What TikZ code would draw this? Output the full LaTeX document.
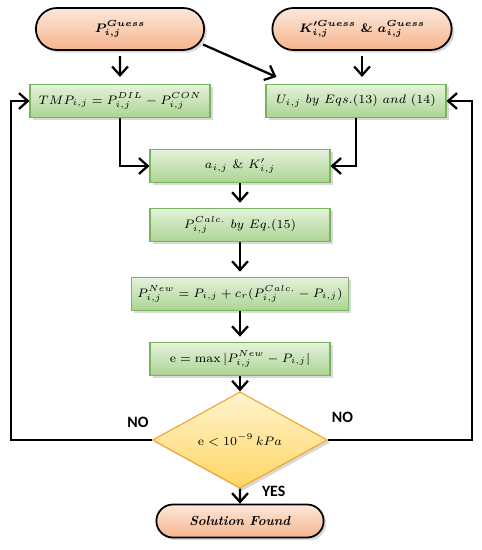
\documentclass[tikz,border=0pt]{standalone}
\usepackage{amsmath}
\usepackage{fontspec}
\usepackage{tikz}
\usetikzlibrary{arrows.meta, positioning, shapes.geometric, shapes.misc, shadows, calc}
\newfontfamily\labelfont{Carlito}
\definecolor{termtop}{RGB}{252,232,220}
\definecolor{termbot}{RGB}{246,180,140}
\definecolor{boxtop}{RGB}{228,242,219}
\definecolor{boxbot}{RGB}{172,212,146}
\definecolor{boxline}{RGB}{120,180,95}
\definecolor{dectop}{RGB}{255,244,206}
\definecolor{decbot}{RGB}{255,214,100}
\definecolor{decline}{RGB}{245,160,40}

\begin{document}
\begin{tikzpicture}[
    x=0.02cm, y=-0.02cm,
    term/.style={rounded rectangle, draw=black, line width=1pt, top color=termtop, bottom color=termbot, minimum width=3.6cm, minimum height=0.84cm, font=\fontsize{7}{8}\selectfont\boldmath, drop shadow={opacity=0.3, shadow xshift=1.5pt, shadow yshift=-1.5pt}},
    calcbox/.style={rectangle, draw=boxline, line width=0.6pt, top color=boxtop, bottom color=boxbot, minimum width=3.6cm, minimum height=0.66cm, font=\fontsize{7}{8}\selectfont, drop shadow={opacity=0.3, shadow xshift=1.5pt, shadow yshift=-1.5pt}},
    decide/.style={diamond, draw=decline, line width=0.6pt, top color=dectop, bottom color=decbot, minimum width=3.5cm, minimum height=1.4cm, inner sep=0pt, font=\fontsize{7}{8}\selectfont, drop shadow={opacity=0.3, shadow xshift=1.5pt, shadow yshift=-1.5pt}},
    arr/.style={-{Straight Barb[length=5pt, width=9pt]}, line width=1.3pt},
    answer/.style={font=\labelfont\small\bfseries}
]
\useasboundingbox (0,0) rectangle (482,550);

\node[term] (pg) at (120, 29) {$P^{Guess}_{i,j}$};
\node[term, minimum width=3.82cm] (kg) at (362, 29) {$K'^{Guess}_{i,j}$ \textbf{\&} $a^{Guess}_{i,j}$};

\node[calcbox] (tmp) at (120, 101) {$TMP_{i,j} = P^{DIL}_{i,j} - P^{CON}_{i,j}$};
\node[calcbox] (u) at (356, 101) {$U_{i,j}\ by\ Eqs.(13)\ and\ (14)$};
\node[calcbox] (a) at (240, 166) {$a_{i,j}$ \& $K'_{i,j}$};
\node[calcbox] (pc) at (240, 225) {$P^{Calc.}_{i,j}\ by\ Eq.(15)$};
\node[calcbox] (pn) at (240, 294) {$P^{New}_{i,j} = P_{i,j} + c_r(P^{Calc.}_{i,j} - P_{i,j})$};
\node[calcbox] (e) at (240, 359) {$\mathrm{e} = \max|P^{New}_{i,j} - P_{i,j}|$};
\node[decide] (dec) at (240, 440) {$\mathrm{e} < 10^{-9}\,kPa$};
\node[term, minimum width=3.58cm, minimum height=0.66cm, font=\fontsize{7.5}{9}\selectfont] (sol) at (240, 521) {\textbf{\textit{Solution Found}}};

\coordinate (lb) at (11, 440);
\coordinate (rb) at (472, 440);

\draw[arr, shorten <=3pt, shorten >=4pt] (pg) -- (tmp);
\draw[arr, shorten <=3pt, shorten >=4pt] (kg.south) -- (kg.south |- u.north);
\draw[arr, shorten <=2pt] (pg.-10) -- ([shift={(0.22cm,0.14cm)}]u.north west);
\draw[arr] (tmp.south) |- (a.west);
\draw[arr] (u.south) |- (a.east);
\draw[arr, shorten >=3pt] (a) -- (pc);
\draw[arr, shorten >=3pt] (pc) -- (pn);
\draw[arr, shorten >=3pt] (pn) -- (e);
\draw[arr] (e) -- (dec);
\draw[arr] (dec) -- node[pos=0.15, right=0.3cm, answer] {YES} (sol);

% back to the start when not converged
\draw[arr] (dec.west) -- node[pos=0.1, above=3pt, answer] {NO} (lb) |- (tmp.west);
\draw[arr] (dec.east) -- node[pos=0.1, above=6pt, answer] {NO} (rb) |- (u.east);

\end{tikzpicture}
\end{document}
